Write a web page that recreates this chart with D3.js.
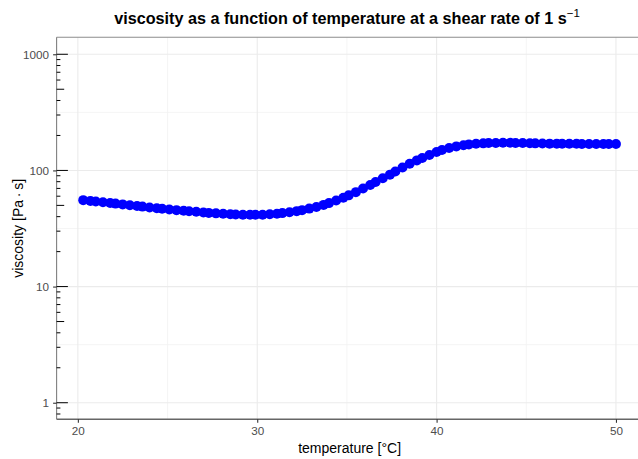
<!DOCTYPE html>
<html>
<head>
<meta charset="utf-8">
<script src="https://cdn.jsdelivr.net/npm/d3@7"></script>
<style>
  body { margin: 0; background: #fff; }
  svg { display: block; font-family: "Liberation Sans", Arial, sans-serif; }
</style>
</head>
<body>
<div id="chart"></div>
<script>
const temperature = [20.3, 20.7, 21.0, 21.4, 21.8, 22.1, 22.5, 22.9, 23.3, 23.6,
  24.0, 24.4, 24.7, 25.1, 25.5, 25.9, 26.2, 26.6, 27.0, 27.3,
  27.7, 28.1, 28.5, 28.8, 29.2, 29.6, 29.9, 30.3, 30.7, 31.1,
  31.4, 31.8, 32.2, 32.5, 32.9, 33.3, 33.7, 34.0, 34.4, 34.8,
  35.1, 35.5, 35.9, 36.3, 36.6, 37.0, 37.4, 37.7, 38.1, 38.5,
  38.9, 39.2, 39.6, 40.0, 40.3, 40.7, 41.1, 41.5, 41.8, 42.2,
  42.6, 42.9, 43.3, 43.7, 44.1, 44.4, 44.8, 45.2, 45.5, 45.9,
  46.3, 46.7, 47.0, 47.4, 47.8, 48.1, 48.5, 48.9, 49.3, 49.6, 50.0];

const viscosity = [55.5, 54.6, 54.0, 53.2, 52.4, 51.8, 51.0, 50.2, 49.4, 48.8,
  48.0, 47.3, 46.8, 46.1, 45.5, 44.9, 44.5, 44.0, 43.5, 43.1,
  42.7, 42.3, 42.0, 41.8, 41.6, 41.5, 41.5, 41.6, 41.9, 42.4,
  42.9, 43.6, 44.6, 45.5, 46.9, 48.5, 50.5, 52.3, 55.0, 58.2,
  61.0, 65.0, 69.8, 75.0, 79.5, 85.5, 92.0, 98.0, 106, 114,
  122, 128, 136, 144, 150, 156, 161, 165, 167.5, 169.5,
  171, 172, 172.5, 173, 173, 172.5, 172, 171.5, 171, 170.5,
  170, 170, 169.5, 169.5, 169.5, 169, 169, 169, 169, 169, 169];

const xTicks = [20, 30, 40, 50];
const xMinor = [25, 35, 45];
const yTicks = [1, 10, 100, 1000];
const yMinor = [3.1623, 31.623, 316.23];

const width = 638;
const height = 459;
const panel = { left: 56.6, right: 642.6, top: 37.3, bottom: 419.3 };

const data = temperature.map((t, i) => ({ t: t, v: viscosity[i] }));

const svg = d3.select("#chart")
  .append("svg")
  .attr("width", width)
  .attr("height", height);

// ggplot-like 5% expansion on x
const xPad = (d3.max(temperature) - d3.min(temperature)) * 0.05;
const x = d3.scaleLinear()
  .domain([d3.min(temperature) - xPad, d3.max(temperature) + xPad])
  .range([panel.left, panel.right]);

const y = d3.scaleLog()
  .domain([0.72, 1400])
  .range([panel.bottom, panel.top]);

// grid
svg.append("g").selectAll("line")
  .data(yMinor)
  .join("line")
  .attr("x1", panel.left).attr("x2", panel.right)
  .attr("y1", d => y(d)).attr("y2", d => y(d))
  .attr("stroke", "#f2f2f2").attr("stroke-width", 0.8);

svg.append("g").selectAll("line")
  .data(xMinor)
  .join("line")
  .attr("x1", d => x(d)).attr("x2", d => x(d))
  .attr("y1", panel.top).attr("y2", panel.bottom)
  .attr("stroke", "#f2f2f2").attr("stroke-width", 0.8);

svg.append("g").selectAll("line")
  .data(yTicks)
  .join("line")
  .attr("x1", panel.left).attr("x2", panel.right)
  .attr("y1", d => y(d)).attr("y2", d => y(d))
  .attr("stroke", "#ebebeb").attr("stroke-width", 1.1);

svg.append("g").selectAll("line")
  .data(xTicks)
  .join("line")
  .attr("x1", d => x(d)).attr("x2", d => x(d))
  .attr("y1", panel.top).attr("y2", panel.bottom)
  .attr("stroke", "#ebebeb").attr("stroke-width", 1.1);

// panel border (top + left), bottom axis line
svg.append("line")
  .attr("x1", panel.left).attr("x2", panel.right)
  .attr("y1", panel.top).attr("y2", panel.top)
  .attr("stroke", "#8c8c8c").attr("stroke-width", 1.1);
svg.append("line")
  .attr("x1", panel.left).attr("x2", panel.left)
  .attr("y1", panel.top).attr("y2", panel.bottom)
  .attr("stroke", "#7f7f7f").attr("stroke-width", 1.1);

// x axis
const xAxis = svg.append("g")
  .attr("transform", `translate(0,${panel.bottom})`)
  .call(d3.axisBottom(x).tickValues(xTicks).tickSize(3.5).tickPadding(4).tickSizeOuter(0));
xAxis.select(".domain").remove();
xAxis.insert("line", ":first-child")
  .attr("x1", panel.left).attr("x2", panel.right)
  .attr("stroke", "#666").attr("stroke-width", 1.6);
xAxis.selectAll(".tick line").attr("stroke", "#333").attr("stroke-width", 1.1);
xAxis.selectAll(".tick text")
  .attr("fill", "#4d4d4d").style("font-size", "11.7px")
  .style("font-family", "Liberation Sans, Arial, sans-serif");

// y axis
const yAxis = svg.append("g")
  .attr("transform", `translate(${panel.left},0)`)
  .call(d3.axisLeft(y).tickValues(yTicks).tickFormat(d3.format("d")).tickSize(3.5).tickPadding(4).tickSizeOuter(0));
yAxis.select(".domain").remove();
yAxis.selectAll(".tick line").attr("stroke", "#333").attr("stroke-width", 1.1);
yAxis.selectAll(".tick text")
  .attr("fill", "#4d4d4d").style("font-size", "11.7px")
  .style("font-family", "Liberation Sans, Arial, sans-serif");

// log ticks inside the panel
const logTicks = y.ticks().filter(d => y(d) >= panel.top && y(d) <= panel.bottom);
svg.append("g").selectAll("line")
  .data(logTicks)
  .join("line")
  .attr("x1", panel.left)
  .attr("x2", d => {
    const lead = Math.round(d / Math.pow(10, Math.floor(Math.log10(d) + 1e-9)));
    if (lead === 1) return panel.left + 11.3;
    if (lead === 5) return panel.left + 7.6;
    return panel.left + 3.8;
  })
  .attr("y1", d => y(d)).attr("y2", d => y(d))
  .attr("stroke", "#000").attr("stroke-width", 1);

// points
svg.append("g").selectAll("circle")
  .data(data)
  .join("circle")
  .attr("cx", d => x(d.t))
  .attr("cy", d => y(d.v))
  .attr("r", 5)
  .attr("fill", "#0000ff");

// titles
const title = svg.append("text")
  .attr("x", 347)
  .attr("y", 24)
  .attr("text-anchor", "middle")
  .style("font-size", "16.2px")
  .style("font-weight", "bold")
  .attr("fill", "#000");
title.append("tspan").text("viscosity as a function of temperature at a shear rate of 1 s");
title.append("tspan")
  .attr("dy", -7)
  .style("font-size", "11.5px")
  .style("font-weight", "normal")
  .text("\u22121");

svg.append("text")
  .attr("x", (panel.left + panel.right) / 2)
  .attr("y", 453)
  .attr("text-anchor", "middle")
  .style("font-size", "14px")
  .attr("fill", "#000")
  .text("temperature [\u00B0C]");

svg.append("text")
  .attr("transform", `translate(23,${(panel.top + panel.bottom) / 2}) rotate(-90)`)
  .attr("text-anchor", "middle")
  .style("font-size", "14px")
  .attr("fill", "#000")
  .text("viscosity [Pa\u2009\u00B7\u2009s]");
</script>
</body>
</html>
